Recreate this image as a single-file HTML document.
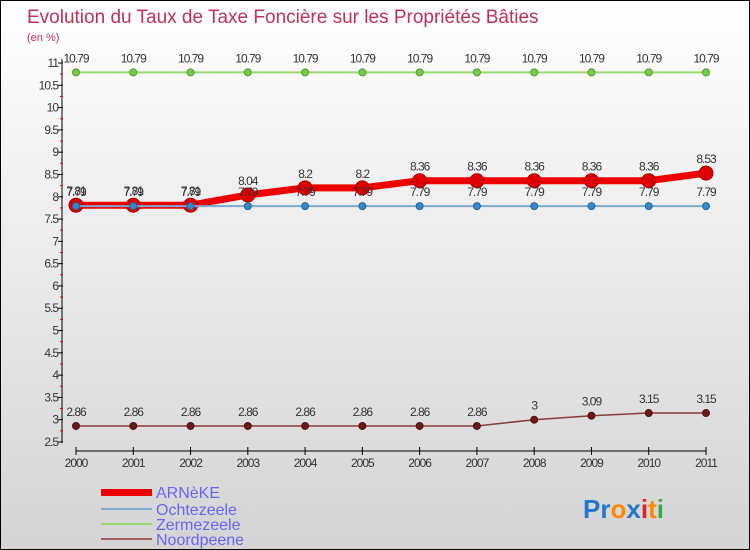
<!DOCTYPE html>
<html><head><meta charset="utf-8"><style>
body{margin:0}
#c{width:750px;height:550px;position:relative;box-sizing:border-box;border:1px solid #000;background:linear-gradient(#fff,#d4d4d4);font-family:"Liberation Sans",sans-serif;overflow:hidden}
svg{position:absolute;left:0;top:0}
</style></head><body>
<div id="c">
<svg id="s" width="750" height="550">
<text x="26" y="22" font-size="19" fill="#c0305a">Evolution du Taux de Taxe Foncière sur les Propriétés Bâties</text>
<text x="26" y="40" font-size="11" fill="#c0305a">(en %)</text>
<g>
<rect x="100" y="488" width="51" height="7" fill="#e00"/>
<text x="155" y="497" font-size="16" fill="#6666ee">ARNèKE</text>
<rect x="100" y="507" width="51" height="2" fill="#7aaad0"/>
<text x="155" y="514" font-size="16" fill="#6666ee">Ochtezeele</text>
<rect x="100" y="522" width="51" height="2" fill="#99d870"/>
<text x="155" y="529" font-size="16" fill="#6666ee">Zermezeele</text>
<rect x="100" y="537" width="51" height="2" fill="#a06060"/>
<text x="155" y="544" font-size="16" fill="#6666ee">Noordpeene</text>
</g>
<g font-size="26" font-weight="bold">
<text x="582" y="517" fill="#2277cc">Pr<tspan fill="#ff8800">o</tspan><tspan fill="#2277cc">x</tspan><tspan fill="#dd2222">i</tspan><tspan fill="#ff8800">t</tspan><tspan fill="#33aa44">i</tspan></text>
</g>
</svg>
</div>
<script>
const years=[2000,2001,2002,2003,2004,2005,2006,2007,2008,2009,2010,2011];
const yTicks=[2.5,3,3.5,4,4.5,5,5.5,6,6.5,7,7.5,8,8.5,9,9.5,10,10.5,11];
const arneke=[7.81,7.81,7.81,8.04,8.2,8.2,8.36,8.36,8.36,8.36,8.36,8.53];
const ochtezeele=[7.79,7.79,7.79,7.79,7.79,7.79,7.79,7.79,7.79,7.79,7.79,7.79];
const zermezeele=[10.79,10.79,10.79,10.79,10.79,10.79,10.79,10.79,10.79,10.79,10.79,10.79];
const noordpeene=[2.86,2.86,2.86,2.86,2.86,2.86,2.86,2.86,3,3.09,3.15,3.15];
const s=document.getElementById('s');const NS='http://www.w3.org/2000/svg';
const X=i=>75+i*(705-75)/(years.length-1);
const Y=v=>441-(v-2.5)*(441-62)/8.5;
function mk(t,a,p){const e=document.createElementNS(NS,t);for(const k in a)e.setAttribute(k,a[k]);(p||s).appendChild(e);return e;}
const ax=mk('g',{});


mk('line',{x1:61,y1:58,x2:61,y2:442,stroke:'#000'},ax);
mk('line',{x1:75,y1:450,x2:705,y2:450,stroke:'#000'},ax);
yTicks.forEach(v=>{const y=Y(v);mk('line',{x1:57,y1:y,x2:62,y2:y,stroke:'#000'},ax);
 if(v<11)mk('line',{x1:59,y1:Y(v+0.25),x2:62,y2:Y(v+0.25),stroke:'#e00'},ax);
 const t=mk('text',{x:57,y:y+4,'text-anchor':'end','font-size':12,fill:'#333','letter-spacing':'-1'},ax);t.textContent=String(v);
 
 });
years.forEach((yr,i)=>{const x=X(i);mk('line',{x1:x,y1:446,x2:x,y2:454,stroke:'#000'},ax);
 const t=mk('text',{x:x,y:466,'text-anchor':'middle','font-size':12,fill:'#333','letter-spacing':'-1'},ax);t.textContent=yr;
 
 });
function series(name,vals,col,w,r,dot,dotStroke){const g=mk('g',{});
 
 
 mk('polyline',{points:vals.map((v,i)=>X(i)+','+Y(v)).join(' '),fill:'none',stroke:col,'stroke-width':w,'stroke-linejoin':'round'},g);
 vals.forEach((v,i)=>{const c=mk('circle',{cx:X(i),cy:Y(v),r:r,fill:dot,stroke:dotStroke,'stroke-width':1},g);
  
  
  const t=mk('text',{x:X(i),y:Y(v)-10,'text-anchor':'middle','font-size':12,fill:'#333','letter-spacing':'-1'},g);t.textContent=String(v);
  
  });}
series('zermezeele',zermezeele,'#99d870',2,3.5,'#77cc44','#559933');
series('noordpeene',noordpeene,'#8a3a3a',1.5,3.5,'#6a1a1a','#501010');
series('arneke',arneke,'#ee0000',7,7,'#dd0000','#aa0000');
series('ochtezeele',ochtezeele,'#7aaad0',2,3.5,'#3388cc','#226699');
</script>
</body></html>
